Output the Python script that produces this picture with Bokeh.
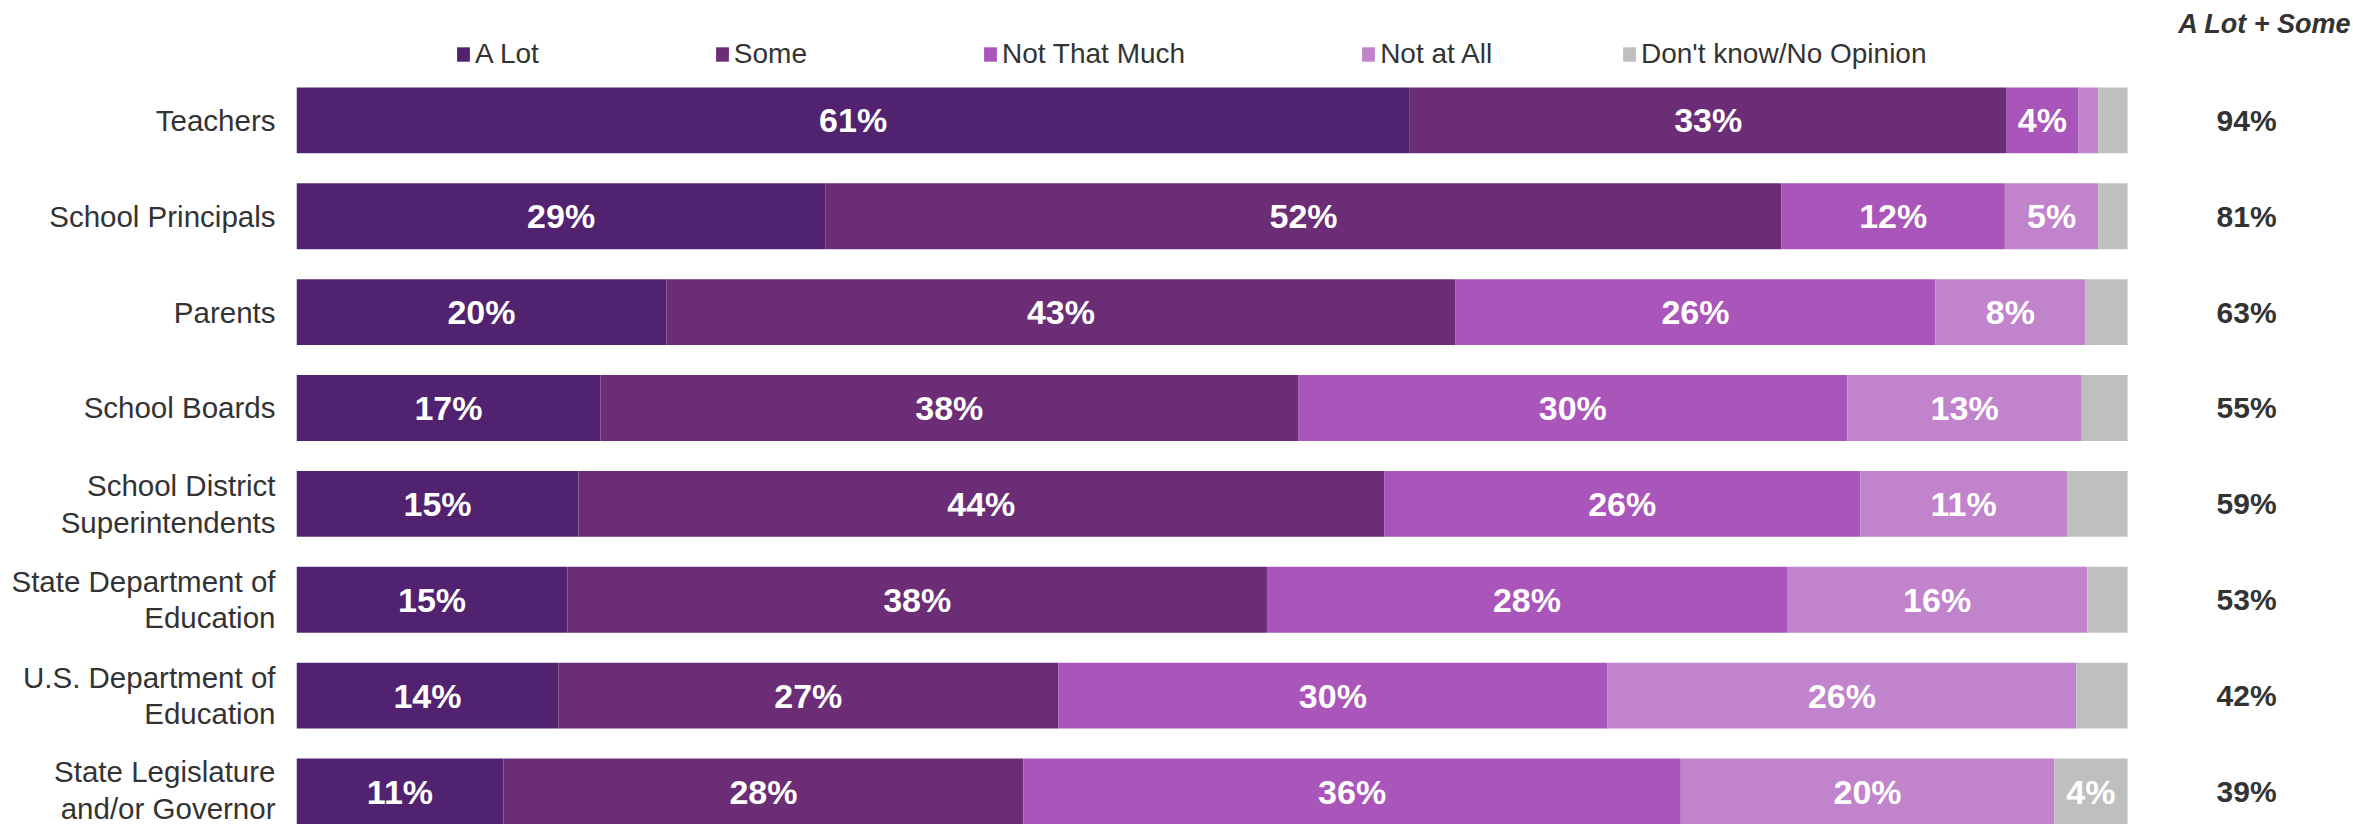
from bokeh.plotting import figure
from bokeh.models import ColumnDataSource, Range1d, Legend, LegendItem, Label, FixedTicker
from bokeh.embed import file_html
from bokeh.resources import INLINE
from bokeh.core.properties import value

categories = ["Teachers", "School Principals", "Parents", "School Boards",
              "School District\nSuperintendents", "State Department of\nEducation",
              "U.S. Department of\nEducation", "State Legislature\nand/or Governor"]
series = ["A Lot", "Some", "Not That Much", "Not at All", "Don't know/No Opinion"]
a_lot = [60.8, 28.9, 20.2, 16.6, 15.4, 14.8, 14.3, 11.3]
some = [32.6, 52.2, 43.1, 38.1, 44.0, 38.2, 27.3, 28.4]
not_much = [3.9, 12.2, 26.2, 30.0, 26.0, 28.4, 30.0, 35.9]
not_at_all = [1.1, 5.1, 8.2, 12.8, 11.3, 16.4, 25.6, 20.4]
dont_know = [1.6, 1.6, 2.3, 2.5, 3.3, 2.2, 2.8, 4.0]
net = [94, 81, 63, 55, 59, 53, 42, 39]
net_title = "A Lot + Some"
colors = ["#51226F", "#6A2D76", "#A955BA", "#C083CC", "#BFBFBF"]

FONT = "Liberation Sans"
TXT = "#333333"

n = len(categories)
ys = [n - 1 - i for i in range(n)]
keys = ["s0", "s1", "s2", "s3", "s4"]
vals = [a_lot, some, not_much, not_at_all, dont_know]
data = {"y": ys}
for k, v in zip(keys, vals):
    data[k] = v
src = ColumnDataSource(data)

p = figure(width=2353, height=824, output_backend="svg", toolbar_location=None,
           x_range=Range1d(0, 112.34), y_range=Range1d(-0.344, 8.25),
           x_axis_location=None, min_border_left=296, min_border_right=0,
           min_border_top=0, min_border_bottom=0)
p.outline_line_color = None
p.grid.visible = False
p.background_fill_color = "white"

BAR_H = 0.6875
rends = p.hbar_stack(keys, y="y", height=BAR_H, color=colors, line_color=None, source=src)

# segment labels
lx, ly, lt = [], [], []
for i in range(n):
    left = 0.0
    for v in vals:
        val = v[i]
        r = round(val)
        if r >= 4:
            lx.append(left + val / 2)
            ly.append(ys[i])
            lt.append(f"{r}%")
        left += val
p.text(x=lx, y=ly, text=lt, text_align="center", text_baseline="middle",
       text_color="white", text_font=value(FONT), text_font_style="bold",
       text_font_size="34px")

# net column
p.text(x=[106.5] * n, y=ys, text=[f"{v}%" for v in net], text_align="center",
       text_baseline="middle", text_color=TXT, text_font=value(FONT),
       text_font_style="bold", text_font_size="30px")

p.add_layout(Label(x=107.5, y=8.0, text=net_title, text_align="center",
                   text_baseline="middle", text_color=TXT, text_font=FONT,
                   text_font_style="bold italic", text_font_size="27px"))

# y axis
ax = p.yaxis[0]
ax.ticker = FixedTicker(ticks=ys)
ax.major_label_overrides = {y: c for y, c in zip(ys, categories)}
ax.axis_line_color = None
ax.major_tick_line_color = None
ax.minor_tick_line_color = None
ax.major_tick_in = 0
ax.major_tick_out = 0
ax.major_label_standoff = 21
ax.major_label_text_font = FONT
ax.major_label_text_font_size = "29.5px"
ax.major_label_text_line_height = 1.1
ax.major_label_text_color = TXT

items = [LegendItem(label=s, renderers=[r]) for s, r in zip(series, rends)]
leg_style = dict(orientation="horizontal", glyph_width=16, glyph_height=18,
                 label_standoff=4, spacing=175, padding=0, margin=0,
                 border_line_color=None, background_fill_alpha=0,
                 label_text_font=FONT, label_text_font_size="28px",
                 label_text_color=TXT)
legend1 = Legend(items=items[:4], location=(159, 754), **leg_style)
legend2 = Legend(items=items[4:], location=(1325, 754), **leg_style)
p.add_layout(legend1, "center")
p.add_layout(legend2, "center")

open("out.html", "w").write(file_html(p, INLINE))
